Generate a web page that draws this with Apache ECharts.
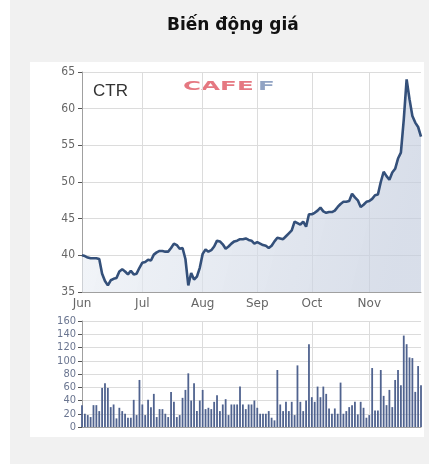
<!DOCTYPE html>
<html><head><meta charset="utf-8">
<script src="https://cdn.jsdelivr.net/npm/echarts@6/dist/echarts.min.js"></script>
<style>
html,body{margin:0;padding:0;background:#fff;}
#bg{position:absolute;left:10px;top:0;width:419px;height:464px;background:#f1f1f1;}
#panel{position:absolute;left:30px;top:62px;width:394px;height:375px;background:#fff;}
#c{position:absolute;left:0;top:0;width:429px;height:464px;}
</style></head>
<body>
<div id="bg"></div><div id="panel"></div>
<div id="c"></div>
<script>
const titleText = 'Biến động giá';
const ticker = 'CTR';
const monthNames = ['Jun','Jul','Aug','Sep','Oct','Nov'];
const monthTradingDays = [21,21,19,19,20,19];
const priceTicks = [35,40,45,50,55,60,65];
const volumeTicks = [0,20,40,60,80,100,120,140,160];

const price = [
 40.0,39.9,39.7,39.6,39.6,39.6,39.5,37.5,36.5,35.9,
 36.6,36.8,36.9,37.8,38.1,37.8,37.4,37.9,37.4,37.5,
 38.3,39.0,39.1,39.4,39.3,40.1,40.4,40.6,40.6,40.5,
 40.5,41.0,41.6,41.4,40.9,41.0,39.5,35.9,37.6,36.7,
 37.1,38.3,40.2,40.8,40.5,40.7,41.2,42.0,41.9,41.5,
 40.9,41.2,41.6,41.9,42.0,42.2,42.2,42.3,42.1,42.0,
 41.6,41.8,41.6,41.4,41.3,41.0,41.3,41.9,42.4,42.3,
 42.2,42.6,43.0,43.4,44.6,44.4,44.2,44.6,43.9,45.6,
 45.6,45.8,46.1,46.5,46.0,45.8,45.9,45.9,46.1,46.6,
 47.0,47.3,47.3,47.4,48.4,47.9,47.5,46.6,46.9,47.3,
 47.4,47.7,48.2,48.3,50.0,51.4,50.8,50.3,51.3,51.8,
 53.2,54.0,58.5,64.0,61.3,59.0,58.1,57.5,56.2
];
const volume = [
 33,20,18,15,33,33,24,59,66,59,
 30,34,13,29,24,20,14,14,41,18,
 71,34,18,41,30,50,15,27,27,20,
 15,53,38,15,18,44,56,81,40,66,
 24,40,56,27,29,27,38,48,24,34,
 42,18,34,34,34,61,34,27,34,34,
 40,29,20,20,20,24,14,10,86,34,
 24,38,24,38,18,93,38,24,40,125,
 45,38,61,45,61,50,28,20,28,20,
 67,20,24,30,33,38,19,38,29,14,
 18,89,25,25,86,47,33,56,30,71,
 86,63,138,125,105,104,53,92,63
];

// trading-day categories and month start indices
const categories = [];
const monthStart = {};
monthNames.forEach((m, i) => {
  monthStart[categories.length] = m;
  for (let d = 1; d <= monthTradingDays[i]; d++) categories.push(m + ' ' + d);
});
const isMonthStart = (idx) => monthStart[idx] !== undefined;

const chart = echarts.init(document.getElementById('c'), null, {renderer:'canvas'});
const gridColor = '#dcdcdc';
const option = {
  animation: false,
  title: {
    text: titleText, left: 162, top: 12,
    textStyle: {fontFamily:'DejaVu Sans', fontWeight:'bold', fontSize:17, color:'#111'}
  },
  graphic: [
    {type:'text', left: 93, top: 83, style:{text: ticker, font:'17px "Liberation Sans"', fill:'#333'}},
    {type:'text', x: 183, y: 81, scaleX: 2.05, scaleY: 0.95,
      style:{text:'CAFE', font:'bold 12px "DejaVu Sans"', fill:'#e0606b', opacity:0.85}},
    {type:'text', x: 258, y: 81, scaleX: 2.05, scaleY: 0.95,
      style:{text:'F', font:'bold 12px "DejaVu Sans"', fill:'#7e93b8', opacity:0.85}}
  ],
  grid: [
    {left: 82, right: 8, top: 72, height: 220},
    {left: 82, right: 8, top: 321, height: 106}
  ],
  xAxis: [
    {type:'category', gridIndex:0, data: categories, boundaryGap:false,
     axisLine:{lineStyle:{color:'#a0a0a0'}}, axisTick:{show:false},
     axisLabel:{interval: (i) => isMonthStart(i), formatter: (v, i) => monthStart[i] || '',
       color:'#666', fontFamily:'DejaVu Sans', fontSize:12, margin:6},
     splitLine:{show:true, interval: (i) => isMonthStart(i) && i > 0, lineStyle:{color:gridColor}}},
    {type:'category', gridIndex:1, data: categories, boundaryGap:false,
     axisLine:{lineStyle:{color:'#a0a0a0'}}, axisTick:{show:false}, axisLabel:{show:false},
     splitLine:{show:true, interval: (i) => isMonthStart(i) && i > 0, lineStyle:{color:gridColor}}}
  ],
  yAxis: [
    {type:'value', gridIndex:0, min: priceTicks[0], max: priceTicks[priceTicks.length-1], interval: 5,
     axisLine:{show:true, lineStyle:{color:'#a0a0a0'}},
     axisTick:{show:true, length:4, lineStyle:{color:'#555'}},
     axisLabel:{color:'#666', fontFamily:'DejaVu Sans Condensed', fontSize:12, margin:7},
     splitLine:{lineStyle:{color:gridColor}}},
    {type:'value', gridIndex:1, min: volumeTicks[0], max: volumeTicks[volumeTicks.length-1], interval: 20,
     axisLine:{show:true, lineStyle:{color:'#a0a0a0'}},
     axisTick:{show:true, length:4, lineStyle:{color:'#555'}},
     axisLabel:{color:'#6a7590', fontFamily:'DejaVu Sans Condensed', fontSize:11, margin:6, lineHeight:11},
     splitLine:{lineStyle:{color:gridColor}}}
  ],
  series: [
    {type:'line', xAxisIndex:0, yAxisIndex:0, data: price, symbol:'none', smooth:false,
     lineStyle:{color:'#34507a', width:2.6},
     areaStyle:{color: new echarts.graphic.LinearGradient(0,0,1,0.4,[
       {offset:0, color:'rgba(238,242,247,0.9)'},
       {offset:1, color:'rgba(196,205,222,0.95)'}])}},
    {type:'bar', xAxisIndex:1, yAxisIndex:1, data: volume, barWidth:1.8,
     itemStyle:{color:'#50638f'}}
  ]
};
chart.setOption(option);
</script>
</body></html>
